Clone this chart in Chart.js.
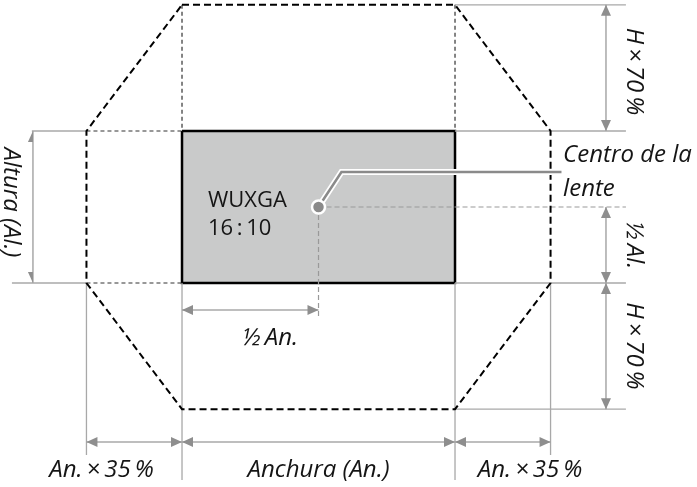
<!DOCTYPE html>
<html>
<head>
<meta charset="utf-8">
<script src="https://cdn.jsdelivr.net/npm/chart.js@4.4.1/dist/chart.umd.min.js"></script>
<style>
html, body { margin: 0; padding: 0; background: #fff; }
canvas { display: block; }
</style>
</head>
<body>
<canvas id="chart" width="697" height="487"></canvas>
<script>
'use strict';

// units: x in % of the screen width (An.), y in % of the screen height (Al.)
var screenSize = [100, 100];      // An., Al.
var sideShift = 35;                // An. x 35 %
var vertShift = 83;                // H x 70 % (as drawn)
var lensCenter = [50, 50];
var leaderPath = [[50, 50], [58.4, 27], [139, 27]];

// thin dark dashed guides inside the octagon
var innerGuides = [
    [[0, -83], [0, 0]],
    [[100, -83], [100, 0]],
    [[-35, 0], [0, 0]],
    [[-35, 100], [0, 100]]
];

// solid grey extension lines
var extLines = [
    [[100, -83], [162.6, -83]],
    [[100, 0], [162.6, 0]],
    [[100, 100], [162.6, 100]],
    [[100, 183], [162.6, 183]],
    [[-55, 0], [-35, 0]],
    [[-62.3, 100], [-35, 100]],
    [[-35, 100], [-35, 213.2]],
    [[0, 100], [0, 229.6]],
    [[100, 100], [100, 229.6]],
    [[135, 100], [135, 213.2]]
];

// dashed grey lines from the lens centre
var lensGuides = [
    [[50, 50], [162.6, 50]],
    [[50, 50], [50, 123]]
];

// dimension arrows [x1, y1, x2, y2, halfHeads]
var dimLines = [
    [155.3, -83, 155.3, 0],
    [155.3, 50, 155.3, 100],
    [155.3, 100, 155.3, 183],
    [-54.6, 0, -54.6, 100, true],
    [-35, 204.6, 0, 204.6],
    [0, 204.6, 100, 204.6],
    [100, 204.6, 135, 204.6],
    [0, 117.8, 50, 117.8]
];

// [text, x, y, align, rotation, italic]
var labels = [
    ['WUXGA', 9.5, 50.2, 'left', 0, false],
    ['16\u2009:\u200910', 9.5, 68.4, 'left', 0, false],
    ['Centro de la', 139.6, 20.4, 'left', 0, true],
    ['lente', 139.6, 42.6, 'left', 0, true],
    ['\u00bd\u2009An.', 32.2, 140.8, 'center', 0, true],
    ['An.\u2009\u00d7\u200935\u2009%', -29.5, 227.4, 'center', 0, true],
    ['Anchura (An.)', 50, 227.4, 'center', 0, true],
    ['An.\u2009\u00d7\u200935\u2009%', 127.5, 227.4, 'center', 0, true],
    ['H\u2009\u00d7\u200970\u2009%', 163, -39.1, 'center', 90, true],
    ['\u00bd\u2009Al.', 163, 75, 'center', 90, true],
    ['H\u2009\u00d7\u200970\u2009%', 163, 141.4, 'center', 90, true],
    ['Altura (Al.)', -65.2, 47, 'center', 90, true]
];

var greyLine = '#a8a8a8';
var arrowGrey = '#8e8e8e';

var pts = function(arr) {
    return arr.map(function(p) {
        return { x: p[0], y: p[1] };
    });
};

var lineSet = function(points, color, width, dash, order) {
    return {
        data: pts(points),
        showLine: true,
        borderColor: color,
        borderWidth: width,
        borderDash: dash || [],
        pointRadius: 0,
        fill: false,
        tension: 0,
        order: order
    };
};

var w = screenSize[0], h = screenSize[1];
var screenBox = [[0, 0], [w, 0], [w, h], [0, h], [0, 0]];
var octagon = [
    [0, -vertShift], [w, -vertShift], [w + sideShift, 0], [w + sideShift, h],
    [w, h + vertShift], [0, h + vertShift], [-sideShift, h], [-sideShift, 0], [0, -vertShift]
];

var datasets = [];
var rect = lineSet(screenBox, '#000', 2.5, null, 20);
rect.fill = 'shape';
rect.backgroundColor = '#c9caca';
datasets.push(rect);
innerGuides.forEach(function(s) { datasets.push(lineSet(s, '#333', 1.2, [4, 3], 15)); });
extLines.forEach(function(s) { datasets.push(lineSet(s, greyLine, 1.3, null, 14)); });
lensGuides.forEach(function(s) { datasets.push(lineSet(s, '#999', 1.2, [5, 3], 13)); });
dimLines.forEach(function(d) { datasets.push(lineSet([[d[0], d[1]], [d[2], d[3]]], greyLine, 1.5, null, 12)); });
datasets.push(lineSet(octagon, '#000', 2, [7, 4], 10));
datasets.push(lineSet(leaderPath, '#fff', 6, null, 3));
datasets.push(lineSet(leaderPath, '#8a8a8a', 2.5, null, 2));
datasets.push({
    data: pts([lensCenter]),
    pointRadius: 6.5,
    pointBackgroundColor: '#8a8a8a',
    pointBorderColor: '#fff',
    pointBorderWidth: 2.5,
    order: 1
});

// tip at (tx, ty), pointing away from (fx, fy)
var drawHead = function(ctx, tx, ty, fx, fy, half) {
    var a = Math.atan2(ty - fy, tx - fx);
    var len = 11, hw = 5;
    var bx = tx - len * Math.cos(a), by = ty - len * Math.sin(a);
    var s = Math.sin(a), c = Math.cos(a);
    ctx.beginPath();
    ctx.moveTo(tx, ty);
    if (half) {
        // only the right-hand side of the line
        var side = ty < fy ? -1 : 1;
        ctx.lineTo(bx, by);
        ctx.lineTo(bx - side * hw * s, by + side * hw * c);
    } else {
        ctx.lineTo(bx - hw * s, by + hw * c);
        ctx.lineTo(bx + hw * s, by - hw * c);
    }
    ctx.closePath();
    ctx.fill();
};

var arrowPlugin = {
    id: 'arrows',
    afterDatasetsDraw: function(chart) {
        var ctx = chart.ctx, xs = chart.scales.x, ys = chart.scales.y;
        ctx.save();
        ctx.fillStyle = arrowGrey;
        dimLines.forEach(function(d) {
            var x1 = xs.getPixelForValue(d[0]), y1 = ys.getPixelForValue(d[1]);
            var x2 = xs.getPixelForValue(d[2]), y2 = ys.getPixelForValue(d[3]);
            drawHead(ctx, x1, y1, x2, y2, d[4]);
            drawHead(ctx, x2, y2, x1, y1, d[4]);
        });
        ctx.restore();
    }
};

var textPlugin = {
    id: 'texts',
    afterDraw: function(chart) {
        var ctx = chart.ctx, xs = chart.scales.x, ys = chart.scales.y;
        labels.forEach(function(l) {
            ctx.save();
            ctx.translate(xs.getPixelForValue(l[1]), ys.getPixelForValue(l[2]));
            ctx.rotate(l[4] * Math.PI / 180);
            ctx.font = l[5] ? 'italic 24px "Open Sans", sans-serif' : '22px "Open Sans", sans-serif';
            ctx.fillStyle = '#151515';
            ctx.textAlign = l[3];
            ctx.textBaseline = 'alphabetic';
            ctx.fillText(l[0], 0, 0);
            ctx.restore();
        });
    }
};

new Chart(document.getElementById('chart'), {
    type: 'scatter',
    data: { datasets: datasets },
    options: {
        responsive: false,
        animation: false,
        events: [],
        layout: { padding: 0, autoPadding: false },
        plugins: { legend: { display: false }, tooltip: { enabled: false } },
        scales: {
            x: { type: 'linear', min: -66.67, max: 188.64, display: false },
            y: { type: 'linear', min: -86.18, max: 234.21, reverse: true, display: false }
        }
    },
    plugins: [arrowPlugin, textPlugin]
});
</script>
</body>
</html>
